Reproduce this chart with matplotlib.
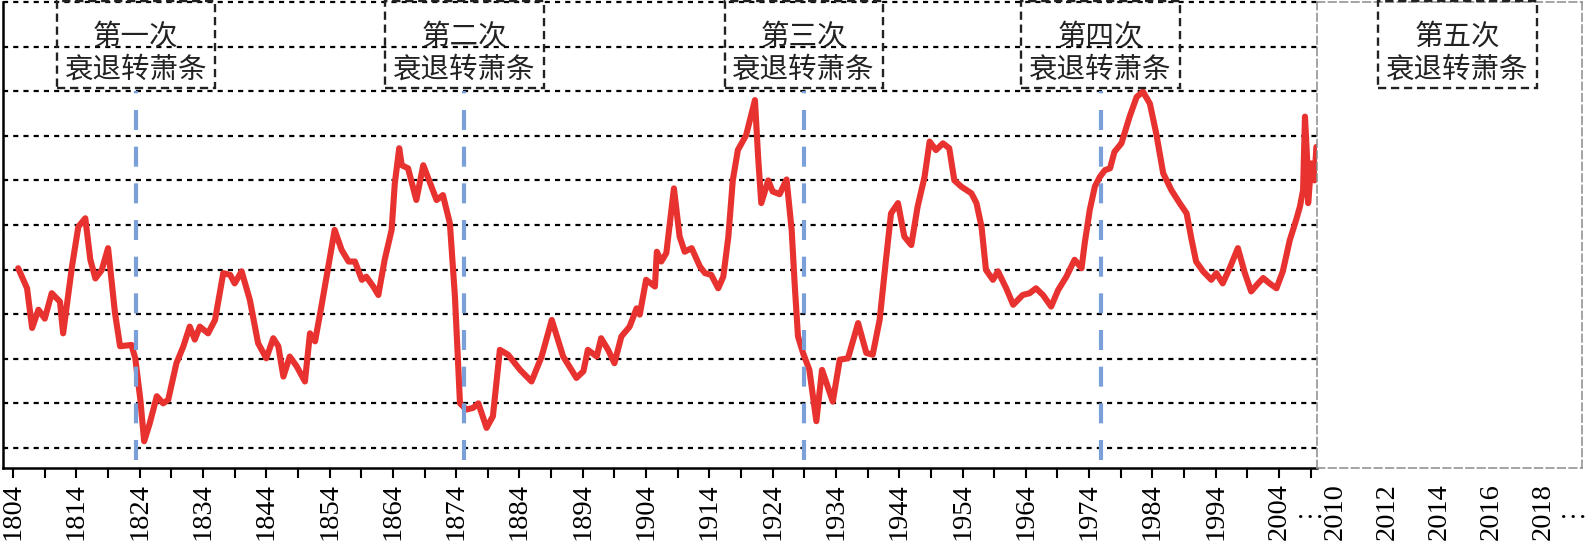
import matplotlib
matplotlib.use('Agg')
import matplotlib.pyplot as plt
from matplotlib.patches import Rectangle

plt.rcParams['font.family'] = ['Liberation Serif', 'Noto Sans CJK SC']

#------
# DATA
#------

years = [1804.8, 1806.2, 1807.0, 1808.0, 1809.0, 1810.1, 1811.4, 1811.9, 1813.3, 1814.3,
         1815.4, 1816.2, 1817.0, 1818.0, 1819.0, 1820.1, 1820.9, 1822.7, 1823.3, 1824.1,
         1824.7, 1825.6, 1826.7, 1827.7, 1828.5, 1829.8, 1830.9, 1831.9, 1832.7, 1833.5,
         1834.8, 1835.9, 1837.2, 1838.3, 1839.0, 1840.1, 1841.4, 1842.7, 1844.0, 1845.1,
         1845.9, 1846.7, 1847.7, 1848.8, 1850.1, 1850.9, 1851.7, 1852.7, 1853.8, 1854.8,
         1855.9, 1857.0, 1858.0, 1859.1, 1859.8, 1860.9, 1861.7, 1862.7, 1863.8, 1864.3,
         1865.0, 1865.4, 1866.4, 1867.7, 1868.8, 1869.8, 1870.9, 1871.9, 1873.0, 1873.8,
         1874.3, 1874.6, 1875.6, 1876.7, 1877.5, 1878.8, 1879.8, 1880.9, 1882.2, 1884.1,
         1885.9, 1887.5, 1889.1, 1890.9, 1893.0, 1894.1, 1894.8, 1896.2, 1896.9, 1898.0,
         1899.0, 1900.1, 1901.4, 1902.5, 1903.0, 1904.0, 1905.4, 1905.7, 1906.4, 1907.2,
         1908.4, 1909.3, 1910.1, 1911.2, 1912.5, 1913.3, 1914.3, 1915.4, 1916.2, 1917.0,
         1917.7, 1918.5, 1919.8, 1921.2, 1921.7, 1922.2, 1923.3, 1924.0, 1925.1, 1926.2,
         1927.0, 1927.5, 1928.0, 1928.8, 1929.8, 1930.9, 1931.8, 1933.5, 1934.6, 1935.9,
         1937.5, 1938.8, 1939.8, 1940.9, 1941.9, 1942.7, 1943.8, 1944.8, 1945.9, 1946.9,
         1948.0, 1948.8, 1949.8, 1950.9, 1951.9, 1952.7, 1953.8, 1955.4, 1956.2, 1957.0,
         1957.7, 1958.8, 1959.6, 1960.9, 1962.0, 1963.5, 1964.6, 1965.6, 1966.7, 1968.0,
         1969.1, 1970.4, 1971.7, 1972.8, 1973.3, 1974.1, 1974.9, 1975.7, 1976.5, 1977.3,
         1978.0, 1979.1, 1980.4, 1981.5, 1982.5, 1983.6, 1984.6, 1985.7, 1987.0, 1988.3,
         1989.4, 1990.2, 1990.9, 1992.0, 1993.3, 1994.1, 1995.1, 1996.2, 1997.5, 1998.6,
         1999.6, 2000.7, 2001.5, 2002.5, 2003.6, 2004.6, 2005.7, 2006.7, 2007.3, 2007.8,
         2008.1, 2008.5, 2008.6, 2009.1, 2009.6, 2009.9]

values = [5.03, 4.58, 3.69, 4.10, 3.90, 4.47, 4.28, 3.57, 5.07, 5.96,
          6.15, 5.22, 4.80, 4.99, 5.48, 4.02, 3.28, 3.31, 3.01, 2.08,
          1.15, 1.56, 2.16, 2.00, 2.08, 2.90, 3.28, 3.72, 3.43, 3.72,
          3.57, 3.87, 4.92, 4.88, 4.69, 4.96, 4.32, 3.35, 3.01, 3.46,
          3.28, 2.60, 3.05, 2.83, 2.49, 3.57, 3.39, 4.17, 5.07, 5.89,
          5.44, 5.18, 5.18, 4.77, 4.84, 4.62, 4.43, 5.22, 5.89, 6.93,
          7.72, 7.34, 7.27, 6.56, 7.34, 6.97, 6.56, 6.67, 6.04, 4.40,
          2.90, 2.00, 1.86, 1.90, 2.00, 1.45, 1.71, 3.20, 3.09, 2.75,
          2.49, 3.05, 3.87, 3.05, 2.57, 2.72, 3.20, 3.05, 3.46, 3.20,
          2.90, 3.50, 3.72, 4.13, 3.99, 4.77, 4.62, 5.40, 5.18, 5.37,
          6.82, 5.74, 5.40, 5.48, 5.07, 4.92, 4.88, 4.58, 4.84, 5.74,
          7.00, 7.68, 8.01, 8.80, 7.53, 6.49, 7.00, 6.75, 6.69, 7.02,
          5.89, 4.62, 3.50, 3.13, 2.75, 1.60, 2.75, 2.04, 2.98, 3.01,
          3.80, 3.13, 3.09, 3.87, 5.22, 6.26, 6.49, 5.74, 5.55, 6.41,
          7.08, 7.87, 7.68, 7.83, 7.72, 7.00, 6.86, 6.71, 6.49, 5.96,
          4.99, 4.77, 4.96, 4.58, 4.21, 4.43, 4.47, 4.58, 4.43, 4.17,
          4.54, 4.84, 5.22, 5.03, 5.59, 6.34, 6.86, 7.08, 7.23, 7.27,
          7.64, 7.83, 8.43, 8.87, 8.99, 8.72, 8.05, 7.16, 6.78, 6.49,
          6.26, 5.66, 5.18, 4.96, 4.77, 4.92, 4.69, 5.03, 5.48, 4.92,
          4.51, 4.69, 4.81, 4.69, 4.58, 4.96, 5.66, 6.11, 6.41, 6.78,
          8.43, 7.31, 6.49, 7.38, 7.00, 7.75]

ticks_main = list(range(1804, 2005, 10))
ticks_minor = list(range(1809, 2010, 10))
ticks_right = [2010, 2012, 2014, 2016, 2018]

crisis_years = [1823.4, 1875.3, 1928.9, 1975.8]
crisis_names = ['第一次', '第二次', '第三次', '第四次']
fifth_year = 2014.7
fifth_name = '第五次'
subtitle = '衰退转萧条'

#-------
# PLOT
#-------

W, H = 1586, 542
fig = plt.figure(figsize=(W / 100, H / 100), dpi=100)
ax = fig.add_axes([3 / W, 74 / H, 1314 / W, 466 / H])
ax2 = fig.add_axes([1317 / W, 74 / H, 265 / W, 466 / H])

ax.set_xlim(1802.4, 2010.0)
ax.set_ylim(0.55, 11.0)

# dotted grid
for k in range(1, 12):
    ax.axhline(k, color='black', lw=1.6, ls=(0, (2.3, 2.3)), zorder=1, clip_on=False)

ax.plot(years, values, color='#e8322f', lw=4.4, solid_joinstyle='round',
        solid_capstyle='round', zorder=3)

# crisis markers and label boxes
def label_box(a, x, width, name):
    a.add_patch(Rectangle((x - width / 2, 9.07), width, 1.96, fill=False,
                          ec='#222222', lw=1.7, ls=(0, (3.5, 2)), clip_on=False, zorder=5))
    a.text(x, 10.22, name, ha='center', va='center', fontsize=20.5, color='#222222', zorder=6)
    a.text(x, 9.46, subtitle, ha='center', va='center', fontsize=20.5, color='#222222', zorder=6)

for yr, name in zip(crisis_years, crisis_names):
    ax.vlines(yr, 0.72, 9.0, colors='#7b9fd8', lw=3, linestyles=[(0, (4.8, 4))], zorder=4)
    label_box(ax, yr, 25, name)

for side in ['top', 'right']:
    ax.spines[side].set_visible(False)
for side in ['left', 'bottom']:
    ax.spines[side].set_linewidth(1.8)
    ax.spines[side].set_color('black')

ax.set_yticks([])
ax.set_xticks(ticks_main)
ax.set_xticks(ticks_minor, minor=True)
ax.set_xticklabels([str(t) for t in ticks_main], rotation=90)
ax.tick_params(axis='x', which='both', direction='out', length=7, width=1.5, pad=4,
               labelsize=20.5)

# empty right-hand panel
ax2.set_xlim(2009.3, 2019.5)
ax2.set_ylim(0.55, 11.0)
ax2.set_yticks([])
ax2.set_xticks(ticks_right)
ax2.set_xticklabels([str(t) for t in ticks_right], rotation=90)
ax2.tick_params(axis='x', length=0, pad=11, labelsize=20.5)
for sp in ax2.spines.values():
    sp.set_linestyle((0, (5, 2.5)))
    sp.set_color('#8c8c8c')
    sp.set_linewidth(1.1)
label_box(ax2, fifth_year, 6.1, fifth_name)

fig.text(1310 / W, 1 - 512 / H, '…', ha='center', va='center', fontsize=20.5)
fig.text(1573 / W, 1 - 512 / H, '…', ha='center', va='center', fontsize=20.5)

fig.savefig('out.png', dpi=100)
